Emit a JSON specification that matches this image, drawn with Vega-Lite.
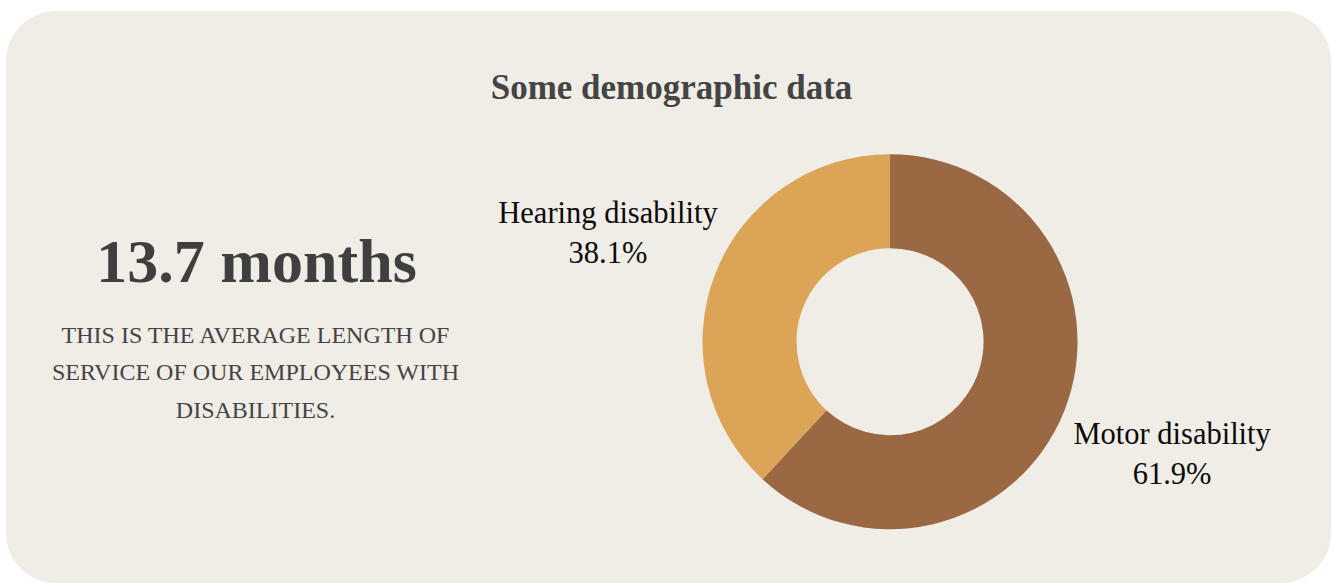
{
  "$schema": "https://vega.github.io/schema/vega-lite/v6.json",
  "width": 1325,
  "height": 572,
  "autosize": {"type": "none"},
  "padding": {"left": 6, "top": 11, "right": 1, "bottom": 0},
  "background": "#ffffff",
  "title": {
    "text": "Some demographic data",
    "anchor": "middle",
    "orient": "top",
    "offset": -123,
    "baseline": "alphabetic",
    "font": "Liberation Serif",
    "fontSize": 35,
    "fontWeight": "bold",
    "color": "#444444",
    "dx": 3
  },
  "datasets": {
    "shares": [
      {"category": "Motor disability", "share": 0.619},
      {"category": "Hearing disability", "share": 0.381}
    ],
    "summary": [
      {"role": "headline", "text": "13.7 months"},
      {"role": "body", "text": "THIS IS THE AVERAGE LENGTH OF\nSERVICE OF OUR EMPLOYEES WITH\nDISABILITIES."}
    ]
  },
  "layer": [
    {
      "data": {"name": "shares"},
      "mark": {"type": "arc", "outerRadius": 187.5, "innerRadius": 93.5},
      "encoding": {
        "x": {"datum": 0.6672, "type": "quantitative", "scale": {"domain": [0, 1], "nice": false, "zero": false}, "axis": null},
        "y": {"datum": 0.5782, "type": "quantitative", "scale": {"domain": [0, 1], "nice": false, "zero": false, "reverse": true}, "axis": null},
        "theta": {"field": "share", "type": "quantitative", "stack": true},
        "order": {"field": "category", "sort": "descending"},
        "color": {
          "field": "category",
          "type": "nominal",
          "scale": {"domain": ["Motor disability", "Hearing disability"], "range": ["#9a6943", "#dca456"]},
          "legend": null
        }
      }
    },
    {
      "data": {"name": "shares"},
      "mark": {"type": "text", "radius": 303, "dy": -17, "font": "Liberation Serif", "fontSize": 30.5, "color": "#0a0a0a", "baseline": "middle", "align": "center"},
      "encoding": {
        "x": {"datum": 0.6672, "type": "quantitative"},
        "y": {"datum": 0.5782, "type": "quantitative"},
        "theta": {"field": "share", "type": "quantitative", "stack": true},
        "order": {"field": "category", "sort": "descending"},
        "detail": {"field": "category", "type": "nominal"},
        "text": {"field": "category", "type": "nominal"}
      }
    },
    {
      "data": {"name": "shares"},
      "mark": {"type": "text", "radius": 303, "dy": 23, "font": "Liberation Serif", "fontSize": 30.5, "color": "#0a0a0a", "baseline": "middle", "align": "center"},
      "encoding": {
        "x": {"datum": 0.6672, "type": "quantitative"},
        "y": {"datum": 0.5782, "type": "quantitative"},
        "theta": {"field": "share", "type": "quantitative", "stack": true},
        "order": {"field": "category", "sort": "descending"},
        "detail": {"field": "category", "type": "nominal"},
        "text": {"field": "share", "type": "quantitative", "format": ".1%"}
      }
    },
    {
      "data": {"name": "summary"},
      "transform": [{"filter": "datum.role === 'headline'"}],
      "mark": {"type": "text", "font": "Liberation Serif", "fontSize": 62, "fontWeight": "bold", "color": "#3f3f3f", "baseline": "alphabetic", "align": "center"},
      "encoding": {
        "x": {"datum": 0.1891, "type": "quantitative"},
        "y": {"datum": 0.4745, "type": "quantitative"},
        "text": {"field": "text", "type": "nominal"}
      }
    },
    {
      "data": {"name": "summary"},
      "transform": [{"filter": "datum.role === 'body'"}],
      "mark": {"type": "text", "font": "Liberation Serif", "fontSize": 24, "color": "#444444", "baseline": "alphabetic", "align": "center", "lineBreak": "\n", "lineHeight": 37.5},
      "encoding": {
        "x": {"datum": 0.1883, "type": "quantitative"},
        "y": {"datum": 0.58, "type": "quantitative"},
        "text": {"field": "text", "type": "nominal"}
      }
    }
  ],
  "config": {
    "view": {"fill": "#f0ede6", "stroke": null, "cornerRadius": 50}
  }
}
